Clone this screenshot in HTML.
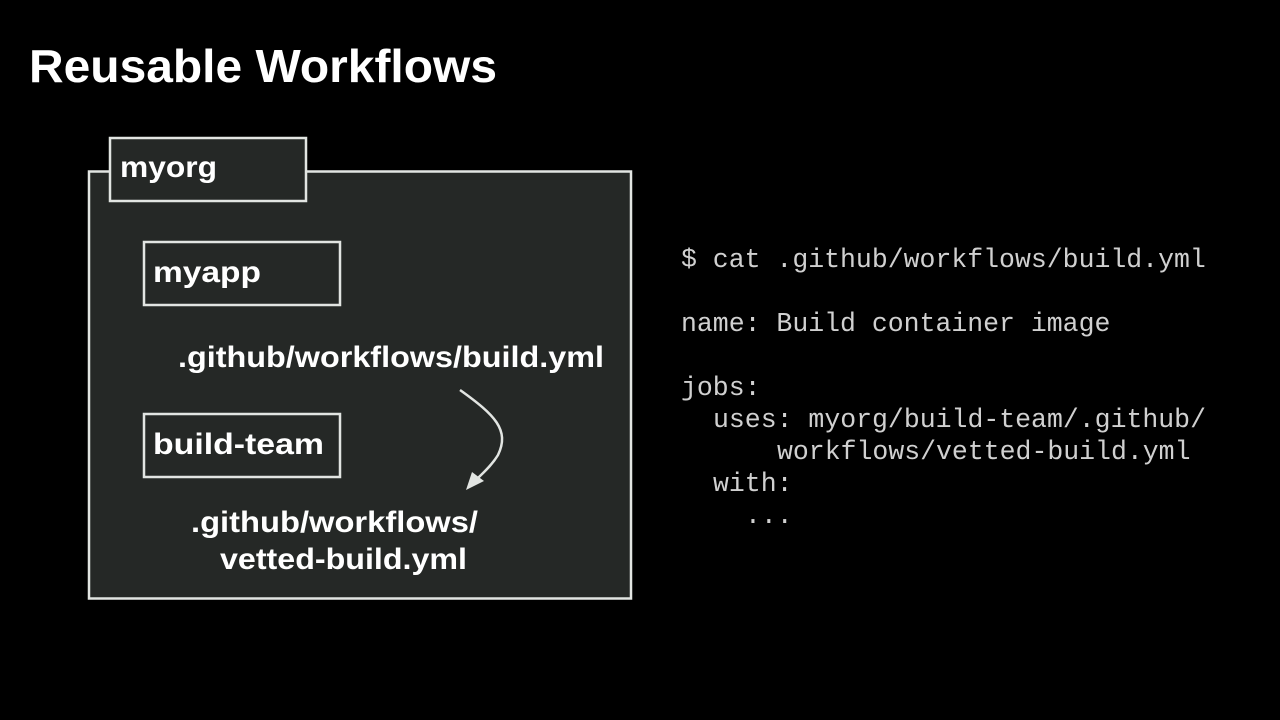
<!DOCTYPE html>
<html><head><meta charset="utf-8"><style>
html,body{margin:0;padding:0;background:#000;width:1280px;height:720px;overflow:hidden}
</style></head><body>
<svg width="1280" height="720" xmlns="http://www.w3.org/2000/svg">
<rect width="1280" height="720" fill="#000"/>
<text x="29" y="82" font-family="Liberation Sans, sans-serif" font-weight="bold" font-size="46" fill="#fff" textLength="468" lengthAdjust="spacingAndGlyphs">Reusable Workflows</text>
<rect x="89" y="171.5" width="542" height="427" fill="#252826" stroke="#e2e5e2" stroke-width="2.5"/>
<rect x="110" y="138" width="196" height="63" fill="#252826" stroke="#e2e5e2" stroke-width="2.5"/>
<rect x="144" y="242" width="196" height="63" fill="#252826" stroke="#e2e5e2" stroke-width="2.5"/>
<rect x="144" y="414" width="196" height="63" fill="#252826" stroke="#e2e5e2" stroke-width="2.5"/>
<g font-family="Liberation Sans, sans-serif" font-size="30" fill="#fff" font-weight="bold">
<text x="120" y="177" textLength="97" lengthAdjust="spacingAndGlyphs">myorg</text>
<text x="153" y="282" textLength="108" lengthAdjust="spacingAndGlyphs">myapp</text>
<text x="153" y="454" textLength="171" lengthAdjust="spacingAndGlyphs">build-team</text>
<text x="178" y="367" textLength="426" lengthAdjust="spacingAndGlyphs">.github/workflows/build.yml</text>
<text x="191" y="532" textLength="287" lengthAdjust="spacingAndGlyphs">.github/workflows/</text>
<text x="220" y="569" textLength="247" lengthAdjust="spacingAndGlyphs">vetted-build.yml</text>
</g>
<path d="M460 390 C 495 415, 510 430, 498 455 C 492 465, 484 472, 478 478" fill="none" stroke="#e2e5e2" stroke-width="2.5"/>
<polygon points="466,490 472,472 484,481" fill="#e2e5e2"/>
<g font-family="Liberation Mono, monospace" font-size="26.5" fill="#d0d0d0">
<text x="681" y="267">$ cat .github/workflows/build.yml</text>
<text x="681" y="331">name: Build container image</text>
<text x="681" y="395">jobs:</text>
<text x="713" y="427">uses: myorg/build-team/.github/</text>
<text x="777" y="459">workflows/vetted-build.yml</text>
<text x="713" y="491">with:</text>
<text x="745" y="523">...</text>
</g>
</svg>
</body></html>
